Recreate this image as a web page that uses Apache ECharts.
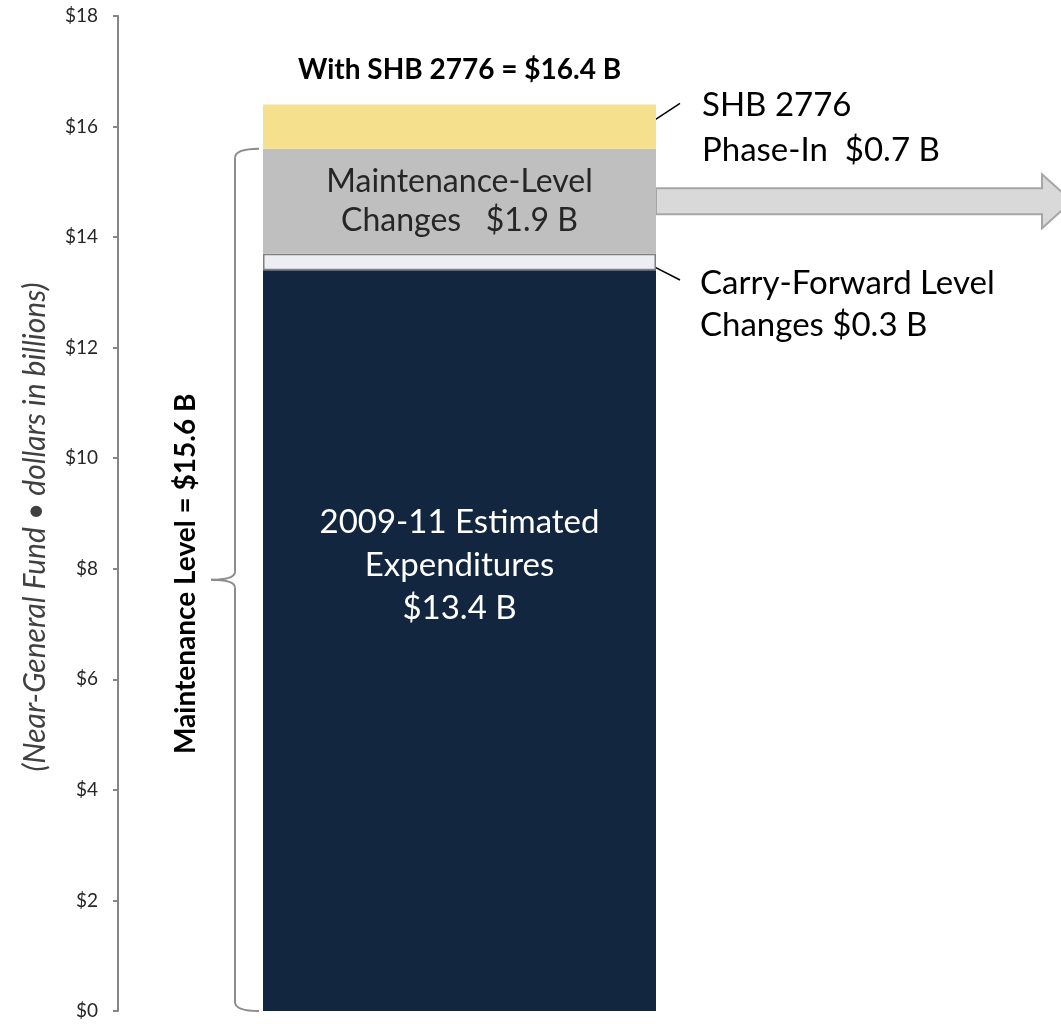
<!DOCTYPE html>
<html>
<head>
<meta charset="utf-8">
<title>Maintenance Level</title>
<script src="https://cdn.jsdelivr.net/npm/echarts@6/dist/echarts.min.js"></script>
<style>
	html, body { margin: 0; padding: 0; background: #fff; }
	#chart { width: 1061px; height: 1024px; }
</style>
</head>
<body>
<div id="chart"></div>
<script>
var FONT = 'Lato, "Open Sans", sans-serif';

// data (dollars in billions)
var categories = ['2009-11'];
var baseValues = [13.4];      // 2009-11 estimated expenditures
var carryValues = [0.3];      // carry-forward level changes
var maintValues = [1.9];      // maintenance-level changes
var shbValues = [0.8];        // SHB 2776 phase-in (top drawn at 16.4)
var yMin = 0, yMax = 18, yStep = 2;

var baseLabel = '2009-11 Estimated\nExpenditures\n$13.4 B';
var maintLabel = 'Maintenance-Level\nChanges   $1.9 B';
var totalLabel = 'With SHB 2776 = $16.4 B';
var bracketLabel = 'Maintenance Level = $15.6 B';
var axisTitle = '(Near-General Fund \u2022 dollars in billions)';
var shbNote = ['SHB 2776', 'Phase-In  $0.7 B'];
var carryNote = ['Carry-Forward Level', 'Changes $0.3 B'];
var maintTotal = 15.6;

var chart = echarts.init(document.getElementById('chart'));

var option = {
	animation: false,
	backgroundColor: '#ffffff',
	grid: { left: 118, right: 260, top: 16, bottom: 13 },
	xAxis: {
		type: 'category',
		data: categories,
		axisLine: { show: false },
		axisTick: { show: false },
		axisLabel: { show: false }
	},
	yAxis: {
		type: 'value',
		min: yMin,
		max: yMax,
		interval: yStep,
		axisLine: { show: true, lineStyle: { color: '#868686', width: 2 } },
		axisTick: { show: true, length: 5, lineStyle: { color: '#868686', width: 2 } },
		splitLine: { show: false },
		axisLabel: {
			margin: 20,
			fontFamily: FONT,
			fontSize: 19,
			color: '#262626',
			formatter: function(v){ return '$' + v; }
		}
	},
	series: [
		{
			name: 'base',
			type: 'bar',
			stack: 'total',
			barWidth: 393,
			data: baseValues,
			itemStyle: { color: '#13263F' },
			label: {
				show: true,
				position: 'inside',
				offset: [0, -75],
				formatter: baseLabel,
				fontFamily: FONT,
				fontSize: 33,
				lineHeight: 43,
				color: '#ffffff'
			}
		},
		{
			name: 'carry',
			type: 'bar',
			stack: 'total',
			data: carryValues,
			itemStyle: { color: '#EDEEF4', borderColor: '#7F7F7F', borderWidth: 1.5 }
		},
		{
			name: 'maint',
			type: 'bar',
			stack: 'total',
			data: maintValues,
			itemStyle: { color: '#BFBFBF' },
			label: {
				show: true,
				position: 'inside',
				formatter: maintLabel,
				fontFamily: FONT,
				fontSize: 32,
				lineHeight: 39,
				color: '#262626'
			}
		},
		{
			name: 'shb',
			type: 'bar',
			stack: 'total',
			data: shbValues,
			itemStyle: { color: '#F5E08E' },
			label: {
				show: true,
				position: 'top',
				distance: 20,
				formatter: totalLabel,
				fontFamily: FONT,
				fontWeight: 'bold',
				fontSize: 28,
				color: '#000000'
			}
		}
	]
};
chart.setOption(option);

// annotations placed from axis values
function py(v){ return chart.convertToPixel({ yAxisIndex: 0 }, v); }
var barRight = chart.convertToPixel({ xAxisIndex: 0 }, categories[0]) + 393 / 2;
var yTop = py(maintTotal), yBot = py(0), yMid = py(maintTotal / 2);
var bx = 235, bxEnd = 259, bxTip = 211;

var baseTop = baseValues[0];
var carryTop = baseTop + carryValues[0];
var maintTop = carryTop + maintValues[0];
var shbTop = maintTop + shbValues[0];
var arrowY = py((carryTop + maintTop) / 2);

var braceStyle = { stroke: '#8C8C8C', lineWidth: 2, fill: null };
var noteStyle = { fontFamily: FONT, fontSize: 33, fill: '#000000' };

function note(x, y, text){
	return {
		type: 'text', x: x, y: y,
		style: echarts.util.extend({ text: text, verticalAlign: 'middle' }, noteStyle)
	};
}

function vtext(x, y, text, extra){
	return {
		type: 'text', x: x, y: y,
		rotation: Math.PI / 2,
		style: echarts.util.extend({ text: text, align: 'center', verticalAlign: 'middle' }, extra)
	};
}

chart.setOption({
	graphic: [
		// axis title
		vtext(35, 527, axisTitle, { fontFamily: FONT, fontStyle: 'italic', fontSize: 30, fill: '#404040' }),
		// brace for the maintenance level
		{ type: 'bezierCurve', shape: { x1: bxEnd, y1: yTop, cpx1: bx, cpy1: yTop, x2: bx, y2: yTop + 9 }, style: braceStyle },
		{ type: 'line', shape: { x1: bx, y1: yTop + 9, x2: bx, y2: yMid - 8 }, style: braceStyle },
		{ type: 'bezierCurve', shape: { x1: bx, y1: yMid - 8, cpx1: bx, cpy1: yMid, x2: bxTip, y2: yMid }, style: braceStyle },
		{ type: 'bezierCurve', shape: { x1: bxTip, y1: yMid, cpx1: bx, cpy1: yMid, x2: bx, y2: yMid + 8 }, style: braceStyle },
		{ type: 'line', shape: { x1: bx, y1: yMid + 8, x2: bx, y2: yBot - 9 }, style: braceStyle },
		{ type: 'bezierCurve', shape: { x1: bx, y1: yBot - 9, cpx1: bx, cpy1: yBot, x2: bxEnd, y2: yBot }, style: braceStyle },
		vtext(186, yMid - 6, bracketLabel, { fontFamily: FONT, fontWeight: 'bold', fontSize: 28, fill: '#000000' }),
		// grey arrow out of the maintenance-level block
		{
			type: 'polygon',
			shape: {
				points: [
					[barRight, arrowY - 13], [1042, arrowY - 13], [1042, arrowY - 27],
					[1072, arrowY], [1042, arrowY + 27], [1042, arrowY + 13], [barRight, arrowY + 13]
				]
			},
			style: { fill: '#D9D9D9', stroke: '#A6A6A6', lineWidth: 2 }
		},
		// SHB 2776 callout
		{
			type: 'line',
			shape: { x1: barRight - 8, y1: py(maintTop + shbValues[0] * 0.55), x2: 680, y2: py(shbTop) - 1 },
			style: { stroke: '#000000', lineWidth: 1.5 }
		},
		note(702, 105, shbNote[0]),
		note(702, 150, shbNote[1]),
		// carry-forward callout
		{
			type: 'line',
			shape: { x1: barRight - 8, y1: py(baseTop + carryValues[0] * 0.4), x2: 680, y2: 280 },
			style: { stroke: '#000000', lineWidth: 1.5 }
		},
		note(700, 283, carryNote[0]),
		note(700, 325, carryNote[1])
	]
});
</script>
</body>
</html>
